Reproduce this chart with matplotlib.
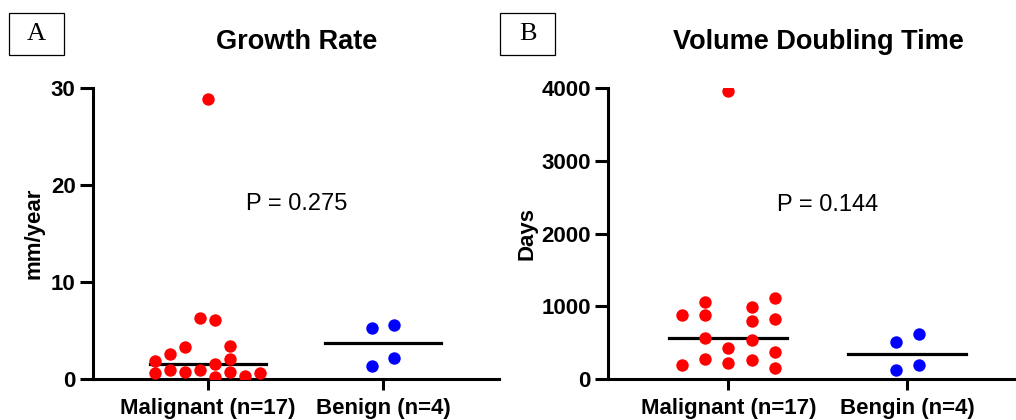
import numpy as np
import matplotlib.pyplot as plt
from matplotlib.patches import Rectangle

plt.rcParams['font.family'] = ['Liberation Sans', 'DejaVu Sans']

# ---------- data ----------
groups_a = ['Malignant (n=17)', 'Benign (n=4)']
groups_b = ['Malignant (n=17)', 'Bengin (n=4)']

# growth rate, mm/year
gr_malig = [1.86, 0.6, 2.6, 0.93, 3.3, 0.76, 6.3, 0.93, 28.9,
            6.1, 1.5, 0.17, 3.4, 2.1, 0.76, 0.34, 0.65]
gr_benign = [1.34, 5.3, 2.2, 5.6]

# volume doubling time, days
vdt_malig = [880, 192, 1063, 880, 559, 270, 3960, 422, 216,
             994, 802, 536, 261, 1109, 825, 376, 147]
vdt_benign = [120, 505, 190, 620]

p_a = 'P = 0.275'
p_b = 'P = 0.144'

# scatter jitter (column offsets, in category units)
jit_a_m = np.array([-3.5, -3.5, -2.5, -2.5, -1.5, -1.5, -0.5, -0.5, 0,
                    0.5, 0.5, 0.5, 1.5, 1.5, 1.5, 2.5, 3.5]) * 0.0857
jit_a_b = np.array([-1, -1, 1, 1]) * 0.065
jit_b_m = np.array([-2, -2, -1, -1, -1, -1, 0, 0, 0,
                    1, 1, 1, 1, 2, 2, 2, 2]) * 0.13
jit_b_b = np.array([-1, -1, 1, 1]) * 0.064

W, H = 1016, 420
fig = plt.figure(figsize=(W / 100, H / 100), dpi=100)


def px(x0, y0, x1, y1):
    return [x0 / W, 1 - y1 / H, (x1 - x0) / W, (y1 - y0) / H]


def panel(ax, labels, m, b, jm, jb, ymax, yticks, ylabel, xlim, lab_x):
    ax.scatter(0 + jm, m, s=80, color='#ff0000', zorder=3, linewidths=0)
    ax.scatter(1 + jb, b, s=80, color='#0000ff', zorder=3, linewidths=0)
    for i, vals in enumerate([m, b]):
        med = np.median(vals)
        ax.plot([i - 0.33, i + 0.33], [med, med], color='black', lw=2.3, zorder=2)
    ax.set_xlim(*xlim)
    ax.set_ylim(0, ymax)
    ax.set_yticks(yticks)
    ax.set_xticks([0, 1])
    ax.set_xticklabels(labels)
    for s in ['top', 'right']:
        ax.spines[s].set_visible(False)
    for s in ['left', 'bottom']:
        ax.spines[s].set_linewidth(2.2)
    ax.tick_params(axis='y', length=9.5, width=2.2, pad=3, labelsize=16)
    ax.tick_params(axis='x', length=8, width=2.2, pad=6, labelsize=16)
    for t in ax.get_xticklabels() + ax.get_yticklabels():
        t.set_fontweight('bold')
    ax.set_ylabel(ylabel, fontsize=16, fontweight='bold')
    ax.yaxis.set_label_coords(lab_x, 0.5)
    for sp in ax.spines.values():
        sp.set_clip_on(False)


ax1 = fig.add_axes(px(93, 88, 499, 379))
panel(ax1, groups_a, gr_malig, gr_benign, jit_a_m, jit_a_b, 30, [0, 10, 20, 30],
      'mm/year', (-0.657, 1.663), -0.12)

ax2 = fig.add_axes(px(608, 88, 1015, 379))
panel(ax2, groups_b, vdt_malig, vdt_benign, jit_b_m, jit_b_b, 4000,
      [0, 1000, 2000, 3000, 4000], 'Days', (-0.672, 1.602), -0.174)

# titles
fig.text(297 / W, 1 - 49 / H, 'Growth Rate', ha='center', va='baseline',
         fontsize=19.5, fontweight='bold')
fig.text(818 / W, 1 - 49 / H, 'Volume Doubling Time', ha='center', va='baseline',
         fontsize=19.5, fontweight='bold')

# p values
fig.text(297 / W, 1 - 204 / H, p_a, ha='center', va='center', fontsize=17)
fig.text(828 / W, 1 - 205 / H, p_b, ha='center', va='center', fontsize=17)

# panel letters in boxes
for x0, letter in [(9, 'A'), (500, 'B')]:
    fig.patches.append(Rectangle((x0 / W, 1 - 55 / H), 55 / W, 42 / H,
                                 transform=fig.transFigure, fill=False,
                                 edgecolor='black', lw=0.9))
    fig.text((x0 + 27.5) / W, 1 - 34 / H, letter, ha='center', va='center',
             fontsize=19, family='Liberation Serif')

fig.savefig('out.png', dpi=100)
